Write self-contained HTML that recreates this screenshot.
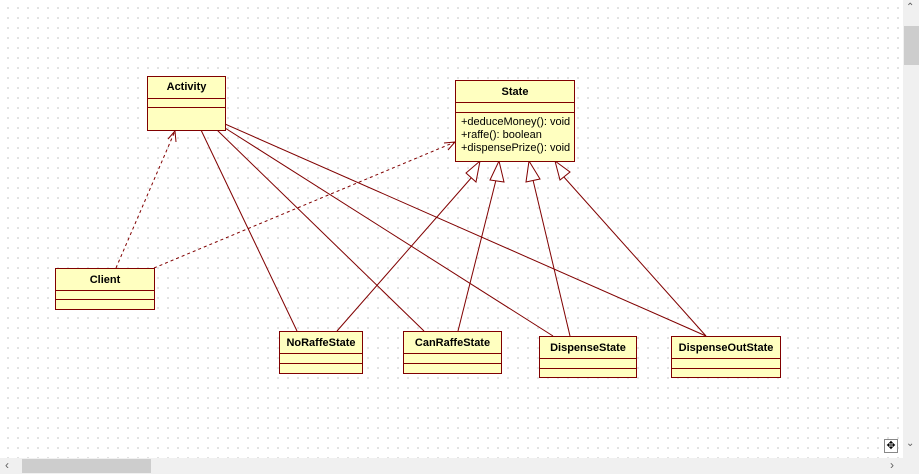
<!DOCTYPE html><html><head><style>
body{margin:0;width:919px;height:474px;overflow:hidden;background:#fff;font-family:"Liberation Sans",sans-serif}
.bg{position:absolute;left:0;top:0;width:903px;height:458px;background-image:radial-gradient(#d8d8d8 0.8px,transparent 1px);background-size:10px 10px;background-position:3px 3px}
.b{position:absolute;background:#ffffc0;border:1px solid #800000;box-sizing:border-box;font-size:11px}
.n{font-weight:bold;text-align:center;border-bottom:1px solid #800000}
.c{border-bottom:1px solid #800000}
</style></head><body>
<div class="bg"></div>
<svg width="919" height="474" style="position:absolute;left:0;top:0">
<g stroke="#800000" fill="none" stroke-width="1">
<line x1="201" y1="130" x2="297" y2="331"/>
<line x1="217" y1="130" x2="424" y2="331"/>
<line x1="225" y1="128" x2="553" y2="336"/>
<line x1="225" y1="124" x2="706" y2="336"/>
<g stroke-dasharray="3,3"><line x1="116" y1="268" x2="175" y2="131"/><line x1="154" y1="268" x2="455" y2="142"/></g>
<polyline points="168,139 175,131 176,142"/>
<polyline points="444,143 455,142 448,150"/>
<line x1="337" y1="331" x2="472" y2="177"/>
<line x1="458" y1="331" x2="496" y2="180"/>
<line x1="570" y1="336" x2="533" y2="180"/>
<line x1="706" y1="336" x2="563" y2="176"/>
<polygon points="480,161 476,182 466,173" fill="#fff"/>
<polygon points="499,161 504,182 490,180" fill="#fff"/>
<polygon points="529,161 540,179 526,182" fill="#fff"/>
<polygon points="555,161 570,172 560,180" fill="#fff"/>
</g></svg>
<div class="b" style="left:147px;top:76px;width:79px;height:55px"><div class="n" style="height:21px;line-height:21px">Activity</div><div class="c" style="height:8px"></div></div>
<div class="b" style="left:455px;top:80px;width:120px;height:82px"><div class="n" style="height:21px;line-height:22px">State</div><div class="c" style="height:9px"></div><div style="padding:3px 0 0 5px;line-height:13px;font-size:11px">+deduceMoney(): void<br>+raffe(): boolean<br>+dispensePrize(): void</div></div>
<div class="b" style="left:55px;top:268px;width:100px;height:42px"><div class="n" style="height:21px;line-height:22px">Client</div><div class="c" style="height:8px"></div></div>
<div class="b" style="left:279px;top:331px;width:84px;height:43px"><div class="n" style="height:21px;line-height:22px">NoRaffeState</div><div class="c" style="height:9px"></div></div>
<div class="b" style="left:403px;top:331px;width:99px;height:43px"><div class="n" style="height:21px;line-height:22px">CanRaffeState</div><div class="c" style="height:9px"></div></div>
<div class="b" style="left:539px;top:336px;width:98px;height:42px"><div class="n" style="height:21px;line-height:22px">DispenseState</div><div class="c" style="height:9px"></div></div>
<div class="b" style="left:671px;top:336px;width:110px;height:42px"><div class="n" style="height:21px;line-height:22px">DispenseOutState</div><div class="c" style="height:9px"></div></div>
<div style="position:absolute;left:903px;top:0;width:16px;height:458px;background:#f0f0f0"></div>
<div style="position:absolute;left:904px;top:26px;width:15px;height:39px;background:#cdcdcd"></div>
<div style="position:absolute;left:906px;top:2px;font-size:10px;color:#606060">&#8963;</div>
<div style="position:absolute;left:906px;top:438px;font-size:10px;color:#606060">&#8964;</div>
<div style="position:absolute;left:0;top:458px;width:919px;height:16px;background:#f0f0f0"></div>
<div style="position:absolute;left:22px;top:459px;width:129px;height:14px;background:#cdcdcd"></div>
<div style="position:absolute;left:5px;top:458px;font-size:12px;color:#606060">&#8249;</div>
<div style="position:absolute;left:890px;top:458px;font-size:12px;color:#606060">&#8250;</div>
<div style="position:absolute;left:884px;top:439px;width:14px;height:14px;border:1px solid #888;box-sizing:border-box;background:#fff;font-size:11px;line-height:12px;text-align:center">✥</div>
</body></html>
